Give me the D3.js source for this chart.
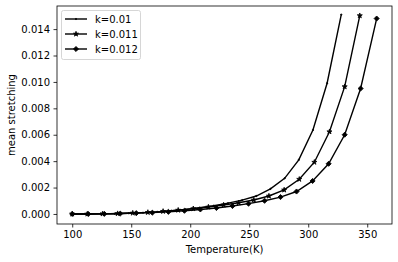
<!DOCTYPE html>
<html>
<head>
<meta charset="utf-8">
<script src="https://cdn.jsdelivr.net/npm/d3@7"></script>
<style>
  body { margin: 0; background: #fff; }
  text { font-family: "DejaVu Sans", sans-serif; }
</style>
</head>
<body>
<div class="chart"></div>
<script>
var width = 398,
    height = 262;
var margin = {left: 57, right: 6, top: 6, bottom: 38};

// temperatures for each run (20 samples each)
var temp1 = [100, 112, 124, 136, 148, 160, 172, 184, 196, 208, 220, 232, 244, 256, 268, 280, 292, 304, 316, 328];
var temp2 = [100, 112.8, 125.7, 138.5, 151.3, 164.1, 177, 189.8, 202.6, 215.4, 228.3, 241.1, 253.9, 266.7, 279.6, 292.4, 305.2, 318, 330.9, 343.7];
var temp3 = [100, 113.6, 127.2, 140.7, 154.3, 167.9, 181.5, 195.1, 208.6, 222.2, 235.8, 249.4, 263, 276.5, 290.1, 303.7, 317.3, 330.9, 344.4, 358];

var stretch1 = [0, 0, 0.00001, 0.00002, 0.00005, 0.0001, 0.00016, 0.00025, 0.00035, 0.00048, 0.00063, 0.00082, 0.00105, 0.00136, 0.0019, 0.0027, 0.0041, 0.00636, 0.0099, 0.0151];
var stretch2 = [0, 0, 0.00001, 0.00003, 0.00007, 0.00012, 0.0002, 0.00029, 0.0004, 0.00053, 0.00068, 0.00085, 0.00106, 0.00136, 0.00182, 0.00263, 0.00392, 0.00623, 0.00964, 0.01502];
var stretch3 = [0, 0, 0.00001, 0.00003, 0.00006, 0.0001, 0.00016, 0.00024, 0.00034, 0.00045, 0.0006, 0.00078, 0.001, 0.00128, 0.0017, 0.0025, 0.0038, 0.006, 0.0095, 0.0148];

var labels = ["k=0.01", "k=0.011", "k=0.012"];
var xTicks = [100, 150, 200, 250, 300, 350];
var yTicks = [0, 0.002, 0.004, 0.006, 0.008, 0.010, 0.012, 0.014];

var series = [
  {name: labels[0], t: temp1, v: stretch1, marker: "point"},
  {name: labels[1], t: temp2, v: stretch2, marker: "star"},
  {name: labels[2], t: temp3, v: stretch3, marker: "diamond"}
];

var svg = d3.select(".chart").append("svg")
    .attr("width", width)
    .attr("height", height);

var x = d3.scaleLinear()
    .domain([87.1, 371])
    .range([margin.left, width - margin.right]);
var y = d3.scaleLinear()
    .domain([-0.00076, 0.01575])
    .range([height - margin.bottom, margin.top]);

var symbols = {
  point: d3.symbol().type(d3.symbolCircle).size(1.5),
  star: d3.symbol().type(d3.symbolStar).size(8),
  diamond: d3.symbol().type(d3.symbolSquare).size(13)
};
function markerPath(m) { return symbols[m](); }
function markerRot(m) { return m === "diamond" ? " rotate(45)" : ""; }

svg.append("defs").append("clipPath").attr("id", "clip")
  .append("rect")
    .attr("x", margin.left).attr("y", margin.top)
    .attr("width", width - margin.left - margin.right)
    .attr("height", height - margin.top - margin.bottom);

var plot = svg.append("g").attr("clip-path", "url(#clip)");

var line = d3.line();

series.forEach(function(s) {
  var pts = s.t.map(function(t, i) { return [x(t), y(s.v[i])]; });
  plot.append("path")
      .attr("d", line(pts))
      .attr("fill", "none")
      .attr("stroke", "#000")
      .attr("stroke-width", 1.4);
  plot.selectAll(null)
    .data(pts)
    .enter().append("path")
      .attr("d", markerPath(s.marker))
      .attr("transform", function(d) { return "translate(" + d[0] + "," + d[1] + ")" + markerRot(s.marker); })
      .attr("fill", "#000")
      .attr("stroke", "#000")
      .attr("stroke-width", 0.8);
});

// axes
var xAxis = svg.append("g")
    .attr("transform", "translate(0," + (height - margin.bottom) + ")")
    .call(d3.axisBottom(x).tickValues(xTicks).tickSize(3.5).tickPadding(3.5).tickFormat(d3.format("d")));
var yAxis = svg.append("g")
    .attr("transform", "translate(" + margin.left + ",0)")
    .call(d3.axisLeft(y).tickValues(yTicks).tickSize(3.5).tickPadding(3.5).tickFormat(d3.format(".3f")));

[xAxis, yAxis].forEach(function(a) {
  a.select(".domain").remove();
  a.selectAll("text").attr("font-size", 10).attr("fill", "#000")
    .attr("font-family", "DejaVu Sans, sans-serif");
  a.selectAll("line").attr("stroke", "#000").attr("stroke-width", 0.8);
});

svg.append("rect")
    .attr("x", margin.left).attr("y", margin.top)
    .attr("width", width - margin.left - margin.right)
    .attr("height", height - margin.top - margin.bottom)
    .attr("fill", "none")
    .attr("stroke", "#000")
    .attr("stroke-width", 0.8);

svg.append("text")
    .attr("x", (margin.left + width - margin.right) / 2)
    .attr("y", 253)
    .attr("text-anchor", "middle")
    .attr("font-size", 10)
    .text("Temperature(K)");

svg.append("text")
    .attr("transform", "translate(15," + ((margin.top + height - margin.bottom) / 2) + ") rotate(-90)")
    .attr("text-anchor", "middle")
    .attr("font-size", 10)
    .text("mean stretching");

// legend
var legend = svg.append("g");
legend.append("rect")
    .attr("x", 61.5).attr("y", 10.5)
    .attr("width", 79).attr("height", 49)
    .attr("rx", 2)
    .attr("fill", "#fff")
    .attr("fill-opacity", 0.8)
    .attr("stroke", "#ccc")
    .attr("stroke-width", 0.8);

series.forEach(function(s, i) {
  var ly = 19 + i * 15;
  legend.append("line")
      .attr("x1", 65).attr("x2", 87)
      .attr("y1", ly).attr("y2", ly)
      .attr("stroke", "#000").attr("stroke-width", 1.4);
  legend.append("path")
      .attr("d", markerPath(s.marker))
      .attr("transform", "translate(76," + ly + ")" + markerRot(s.marker))
      .attr("fill", "#000").attr("stroke", "#000").attr("stroke-width", 0.8);
  legend.append("text")
      .attr("x", 95).attr("y", ly + 3.6)
      .attr("font-size", 10)
      .text(s.name);
});
</script>
</body>
</html>
